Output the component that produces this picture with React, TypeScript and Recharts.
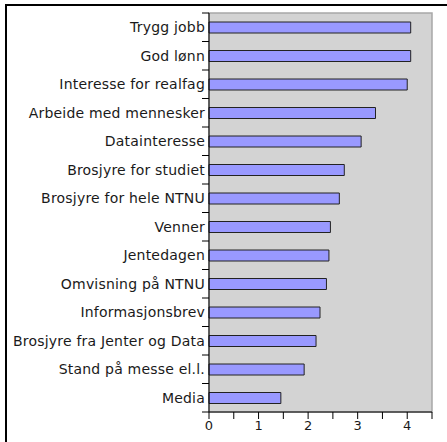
import { BarChart, Bar, XAxis, YAxis, ReferenceArea } from 'recharts'

// Motivation factors, sorted as in the reference (top to bottom)
const categories = [
  'Trygg jobb',
  'God lønn',
  'Interesse for realfag',
  'Arbeide med mennesker',
  'Datainteresse',
  'Brosjyre for studiet',
  'Brosjyre for hele NTNU',
  'Venner',
  'Jentedagen',
  'Omvisning på NTNU',
  'Informasjonsbrev',
  'Brosjyre fra Jenter og Data',
  'Stand på messe el.l.',
  'Media',
]
const values = [4.07, 4.07, 4.0, 3.36, 3.07, 2.73, 2.63, 2.45, 2.42, 2.37, 2.24, 2.16, 1.92, 1.45]
const xTicks = [0, 0.5, 1, 1.5, 2, 2.5, 3, 3.5, 4, 4.5]

const data = categories.map((name, i) => ({ name, value: values[i] }))

const W = 447
const H = 442
const TOP = 13
const BOTTOM = 30
const AXIS_W = 209
const RIGHT = 15
const BAND = (H - TOP - BOTTOM) / categories.length
const FONT = 'DejaVu Sans, sans-serif'

interface TickProps {
  x?: number
  y?: number
  index?: number
  payload?: { value: string }
}

// category label centred in its band, tick marks drawn at band boundaries
function CategoryTick({ x = 0, y = 0, index = 0, payload }: TickProps) {
  const last = index === categories.length - 1
  return (
    <g>
      <line x1={AXIS_W - 7} x2={AXIS_W} y1={y - BAND / 2} y2={y - BAND / 2} stroke="#000" />
      {last && (
        <line x1={AXIS_W - 7} x2={AXIS_W} y1={y + BAND / 2} y2={y + BAND / 2} stroke="#000" />
      )}
      <text
        x={x + 4}
        y={y}
        dy="0.36em"
        textAnchor="end"
        fontSize={14}
        letterSpacing={0.2}
        fill="#1a1a1a"
        fontFamily={FONT}
      >
        {payload?.value}
      </text>
    </g>
  )
}

export default function App() {
  return (
    <div
      style={{
        position: 'fixed',
        left: 0,
        top: 0,
        width: W,
        height: H,
        background: '#fff',
        overflow: 'hidden',
      }}
    >
      {/* outer frame: only its top and left edges fall inside the picture */}
      <div style={{ position: 'absolute', left: 5, top: 4, width: W, height: 2, background: '#000' }} />
      <div style={{ position: 'absolute', left: 5, top: 4, width: 2, height: H, background: '#000' }} />
      <BarChart
        width={W}
        height={H}
        data={data}
        layout="vertical"
        margin={{ top: TOP, right: RIGHT, left: 0, bottom: 0 }}
        style={{ position: 'absolute', left: 0, top: 0 }}
      >
        <XAxis
          type="number"
          domain={[0, 4.5]}
          ticks={xTicks}
          interval={0}
          height={BOTTOM}
          tickSize={7}
          tickLine={{ stroke: '#000' }}
          axisLine={{ stroke: '#000' }}
          tick={{ fontSize: 13, fill: '#1a1a1a', fontFamily: FONT }}
          tickFormatter={(v: number) => (Number.isInteger(v) ? String(v) : '')}
        />
        <YAxis
          type="category"
          dataKey="name"
          width={AXIS_W}
          interval={0}
          tickLine={false}
          axisLine={{ stroke: '#000' }}
          tick={<CategoryTick />}
        />
        <ReferenceArea x1={0} x2={4.5} fill="#d3d3d3" fillOpacity={1} stroke="#a8a8a8" strokeWidth={1.5} />
        <Bar dataKey="value" barSize={11} fill="#9999ff" stroke="#222" strokeWidth={1} isAnimationActive={false} />
      </BarChart>
    </div>
  )
}
